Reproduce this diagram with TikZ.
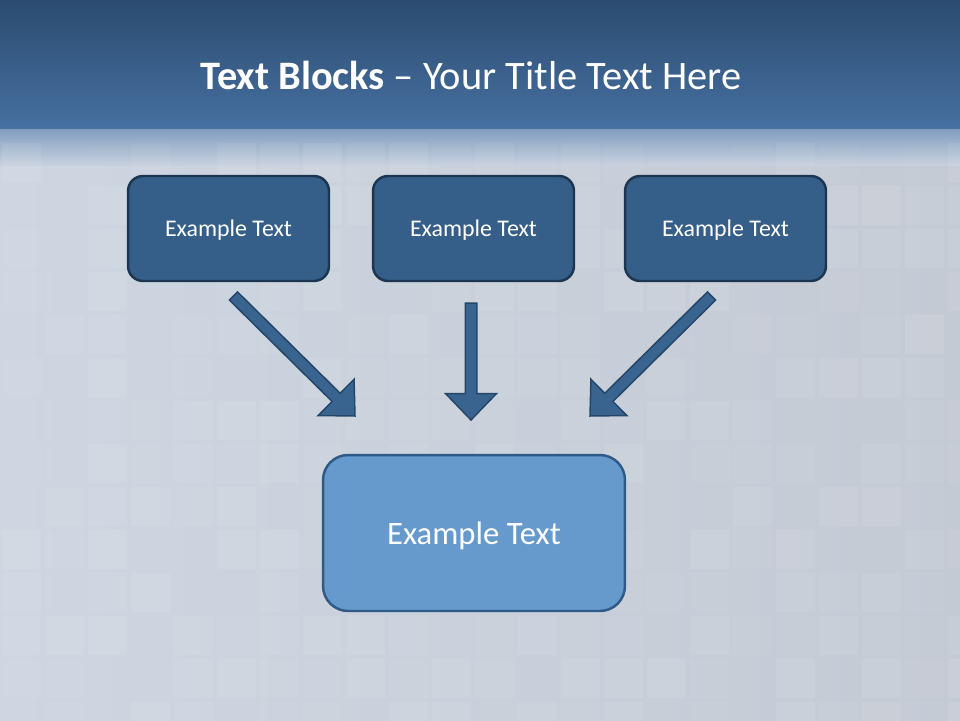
\documentclass[tikz,border=0pt]{standalone}
\usepackage{fontspec}
\setmainfont{Carlito}
\usetikzlibrary{calc}

\definecolor{bandtop}{HTML}{2B4B70}
\definecolor{bandbottom}{HTML}{4670A0}
\definecolor{fadetop}{HTML}{7E9BBE}
\definecolor{backleft}{HTML}{CDD6E1}
\definecolor{backright}{HTML}{C4CAD4}
\definecolor{blockfill}{HTML}{355E88}
\definecolor{blockline}{HTML}{1C3550}
\definecolor{mainfill}{HTML}{6699CC}
\definecolor{mainline}{HTML}{2F5A87}
\definecolor{arrowfill}{HTML}{3A6490}
\definecolor{arrowline}{HTML}{244669}

\tikzset{
  textblock/.style={draw=blockline, fill=blockfill, line width=1.4pt,
    rounded corners=0.3cm, minimum width=4.02cm, minimum height=2.1cm,
    text depth=0pt, text=white, font=\fontsize{13.6}{16}\selectfont},
  mainblock/.style={draw=mainline, fill=mainfill, line width=1.4pt,
    rounded corners=0.5cm, minimum width=6.04cm, minimum height=3.12cm,
    text depth=0pt, text=white, font=\fontsize{18.6}{22}\selectfont},
  titletext/.style={text=white, font=\fontsize{23}{27}\selectfont},
  flowarrow/.style={draw=arrowline, fill=arrowfill, line width=0.85pt,
    line join=miter}
}

% Block arrow from #1 to #2 (shaft half width, head half width, head length)
\newcommand{\blockarrow}[2]{%
  \coordinate (hb) at ($(#2)!0.53cm!(#1)$);
  \draw[flowarrow] ($(#1)!0.115cm!90:(#2)$) -- ($(hb)!0.115cm!90:(#2)$)
    -- ($(hb)!0.51cm!90:(#2)$) -- (#2) -- ($(hb)!0.51cm!-90:(#2)$)
    -- ($(hb)!0.115cm!-90:(#2)$) -- ($(#1)!0.115cm!-90:(#2)$) -- cycle;
}

\begin{document}
\begin{tikzpicture}[x=0.02cm,y=-0.02cm]
  \useasboundingbox (0,0) rectangle (960,720);

  % Background
  \shade[left color=backleft, right color=backright] (0,160) rectangle (960,720);
  \shade[top color=fadetop, bottom color=backleft!95!bandbottom] (0,127) rectangle (960,165);
  \shade[top color=bandtop, bottom color=bandbottom] (0,0) rectangle (960,128);
  \pgfmathsetseed{7}
  \foreach \r in {0,...,13}{
    \foreach \c in {0,...,22}{
      \pgfmathsetmacro\tileop{0.09*rnd}
      \fill[white,opacity=\tileop] (\c*43+2,\r*43+143) rectangle ++(39,39);
    }
  }

  % Title
  \node[titletext] (title) at (471,75) {\textbf{Text Blocks} \textendash{} Your Title Text Here};

  % Blocks
  \node[textblock] (left) at (228.5,228.5) {Example Text};
  \node[textblock] (middle) at (473.5,228.5) {Example Text};
  \node[textblock] (right) at (725.5,228.5) {Example Text};
  \node[mainblock] (result) at (474,533) {Example Text};

  % Arrows
  \coordinate (leftfrom) at (233.5,296);
  \coordinate (leftto) at (355,416);
  \coordinate (middlefrom) at (471,303);
  \coordinate (middleto) at (471,420);
  \coordinate (rightfrom) at (711.5,296);
  \coordinate (rightto) at (590,416);
  \blockarrow{leftfrom}{leftto}
  \blockarrow{middlefrom}{middleto}
  \blockarrow{rightfrom}{rightto}
\end{tikzpicture}
\end{document}
